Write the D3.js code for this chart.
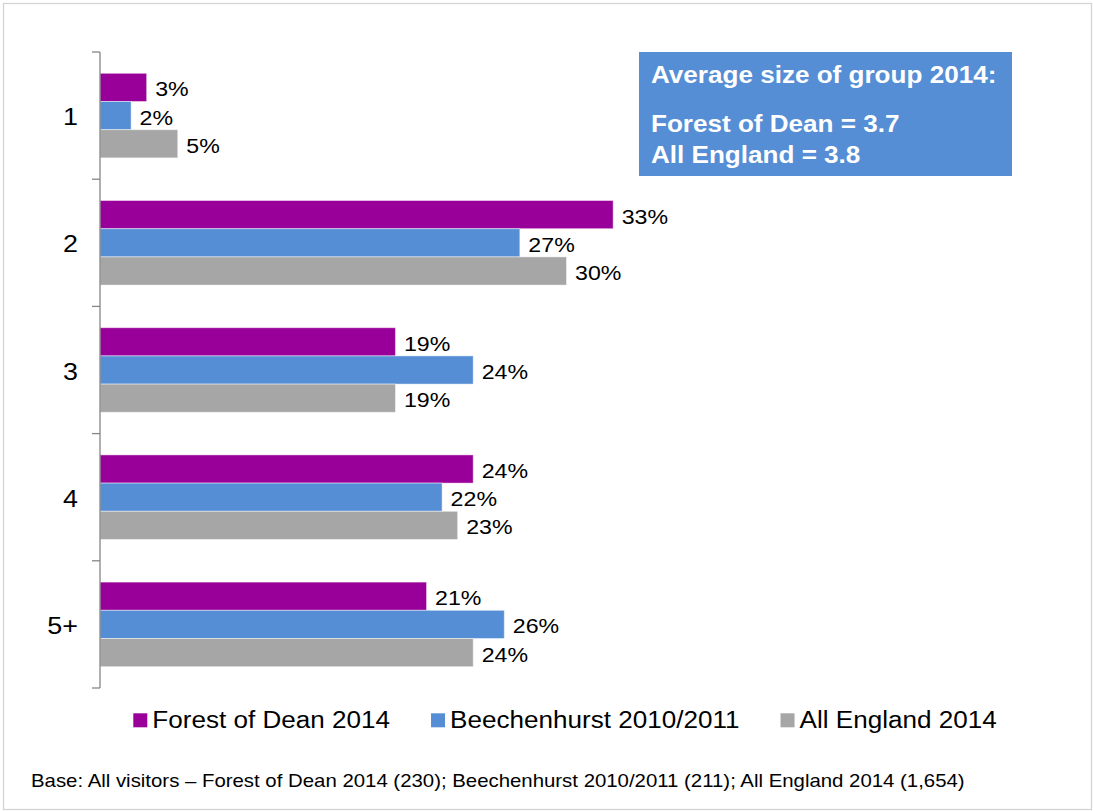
<!DOCTYPE html>
<html>
<head>
<meta charset="utf-8">
<script src="https://cdn.jsdelivr.net/npm/d3@7"></script>
<style>
  html, body { margin: 0; padding: 0; background: #fff; }
  svg { display: block; font-family: Arial, "Liberation Sans", sans-serif; }
</style>
</head>
<body>
<svg id="chart" width="1093" height="811"></svg>
<script>
// Group size categories and the share of visitors in each
const categories = ["1", "2", "3", "4", "5+"];
const seriesNames = ["Forest of Dean 2014", "Beechenhurst 2010/2011", "All England 2014"];
const forestOfDean2014 = [3, 33, 19, 24, 21];
const beechenhurst2010 = [2, 27, 24, 22, 26];
const allEngland2014 = [5, 30, 19, 23, 24];
const seriesColors = ["#990099", "#558ED5", "#A6A6A6"];

const boxLines = ["Average size of group 2014:", "Forest of Dean = 3.7", "All England = 3.8"];
const footnote = "Base: All visitors \u2013 Forest of Dean 2014 (230); Beechenhurst 2010/2011 (211); All England 2014 (1,654)";

const seriesValues = [forestOfDean2014, beechenhurst2010, allEngland2014];
const rows = categories.map((c, i) => ({
  category: c,
  values: seriesNames.map((s, j) => ({ series: s, value: seriesValues[j][i], color: seriesColors[j] }))
}));

const svg = d3.select("#chart");
const SX = 1.12; // horizontal text stretch

function stretchedText(sel, x, y) {
  return sel.attr("transform", `translate(${x},${y}) scale(${SX},1)`);
}

// outer frame
svg.append("rect")
  .attr("x", 3.5).attr("y", 3.5).attr("width", 1088).attr("height", 806)
  .attr("fill", "#fff").attr("stroke", "#d4d4d4").attr("stroke-width", 1.3);

const plot = { left: 100, top: 52, bottom: 688 };

const x = d3.scaleLinear().domain([0, 60]).range([plot.left, plot.left + 933]);
const y = d3.scaleBand().domain(categories).range([plot.top, plot.bottom])
  .paddingInner(0.335).paddingOuter(0.1675);
const ySeries = d3.scaleBand().domain(seriesNames).range([0, y.bandwidth()]);

// bars
const groups = svg.append("g").selectAll("g.grp").data(rows).join("g")
  .attr("class", "grp")
  .attr("transform", d => `translate(0,${y(d.category)})`);

groups.selectAll("rect").data(d => d.values).join("rect")
  .attr("x", x(0))
  .attr("y", d => ySeries(d.series))
  .attr("width", d => x(d.value) - x(0))
  .attr("height", ySeries.bandwidth())
  .attr("fill", d => d.color)
  .attr("stroke", "rgba(255,255,255,0.45)")
  .attr("stroke-width", 1);

// value labels
groups.selectAll("text.val").data(d => d.values).join("text")
  .attr("class", "val")
  .attr("font-size", 20.7)
  .attr("fill", "#000")
  .each(function (d) {
    stretchedText(d3.select(this), x(d.value) + 8.5, ySeries(d.series) + ySeries.bandwidth() / 2 + 9);
  })
  .text(d => d.value + "%");

// category axis
const step = y.step();
const boundaries = d3.range(categories.length + 1).map(i => plot.top + i * step);
const axis = svg.append("g");
axis.append("line")
  .attr("x1", plot.left).attr("x2", plot.left)
  .attr("y1", plot.top).attr("y2", plot.bottom)
  .attr("stroke", "#868686").attr("stroke-width", 1.3);
axis.selectAll("line.tick").data(boundaries).join("line")
  .attr("class", "tick")
  .attr("x1", plot.left - 8).attr("x2", plot.left)
  .attr("y1", d => d).attr("y2", d => d)
  .attr("stroke", "#868686").attr("stroke-width", 1.3);
axis.selectAll("text").data(categories).join("text")
  .attr("font-size", 24)
  .attr("text-anchor", "end")
  .attr("fill", "#000")
  .each(function (d) {
    stretchedText(d3.select(this), 78, y(d) + y.bandwidth() / 2 + 9.5);
  })
  .text(d => d);

// average group size box
svg.append("rect")
  .attr("x", 639).attr("y", 52).attr("width", 373).attr("height", 124)
  .attr("fill", "#558ED5");
const boxBaselines = [82.7, 131.7, 163.3];
svg.append("g").selectAll("text").data(boxLines).join("text")
  .attr("font-size", 23.5)
  .attr("font-weight", "bold")
  .attr("fill", "#fff")
  .each(function (d, i) {
    d3.select(this).attr("transform", `translate(651,${boxBaselines[i]}) scale(1.11,1)`);
  })
  .text(d => d);

// legend
const legend = svg.append("g");
const items = legend.selectAll("g").data(seriesNames).join("g");
items.append("rect")
  .attr("x", 0).attr("y", -15).attr("width", 14).attr("height", 14)
  .attr("fill", (d, i) => seriesColors[i]);
items.append("text")
  .attr("font-size", 23.3)
  .attr("fill", "#000")
  .attr("transform", `translate(19,0) scale(${SX},1)`)
  .text(d => d);
const widths = [];
items.each(function () {
  const w = 19 + this.querySelector("text").getComputedTextLength() * SX;
  widths.push(w);
});
const gap = 41;
const total = d3.sum(widths) + gap * (widths.length - 1);
let start = 565 - total / 2;
items.attr("transform", (d, i) => {
  const t = `translate(${start},728.3)`;
  start += widths[i] + gap;
  return t;
});

// footnote
stretchedText(svg.append("text"), 31, 786.7)
  .attr("font-size", 18.2)
  .attr("fill", "#000")
  .text(footnote);
</script>
</body>
</html>
